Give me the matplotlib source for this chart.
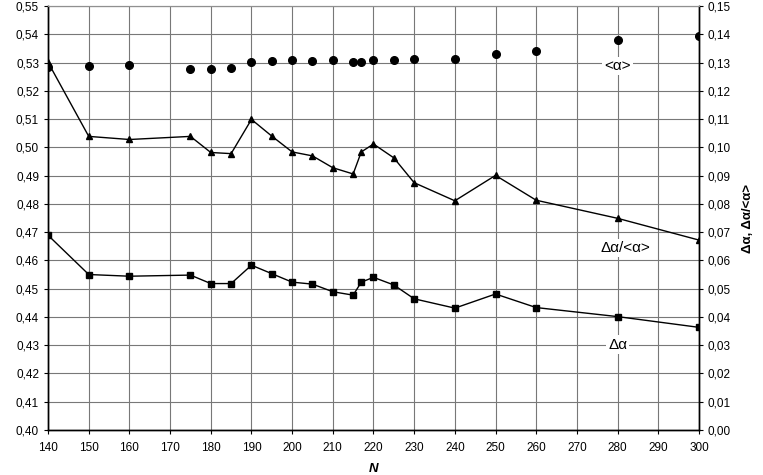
import matplotlib
matplotlib.use("Agg")
import matplotlib.pyplot as plt
from matplotlib.ticker import MultipleLocator, FuncFormatter

plt.rcParams["font.family"] = ["Liberation Sans", "DejaVu Sans"]

# N values for the three series
n_mean = [140, 150, 160, 175, 180, 185, 190, 195, 200, 205, 210, 215, 217,
          220, 225, 230, 240, 250, 260, 280, 300]
# <alpha> (left axis)
alpha_mean = [0.5283, 0.5288, 0.5292, 0.5278, 0.5278, 0.5282, 0.5301, 0.5307,
              0.5309, 0.5307, 0.5309, 0.5301, 0.5302, 0.5311, 0.5310, 0.5314,
              0.5312, 0.5330, 0.5342, 0.5382, 0.5393]
# delta alpha / <alpha> (right axis)
rel_width = [0.1301, 0.1039, 0.1028, 0.1039, 0.0982, 0.0978, 0.1099, 0.1040,
             0.0984, 0.0970, 0.0928, 0.0906, 0.0984, 0.1012, 0.0963, 0.0875,
             0.0811, 0.0901, 0.0813, 0.0749, 0.0672]
# delta alpha (right axis)
abs_width = [0.0689, 0.0550, 0.0544, 0.0548, 0.0518, 0.0518, 0.0583, 0.0553,
             0.0523, 0.0516, 0.0489, 0.0477, 0.0523, 0.0540, 0.0513, 0.0464,
             0.0431, 0.0481, 0.0433, 0.0401, 0.0363]

comma = FuncFormatter(lambda v, p: f"{v:.2f}".replace(".", ","))

fig = plt.figure(figsize=(7.63, 4.75), dpi=100)
ax1 = fig.add_axes([0.063, 0.095, 0.853, 0.892])
ax2 = ax1.twinx()

ax1.plot(n_mean, alpha_mean, "o", color="black", ms=5.5, ls="none", zorder=3)
ax2.plot(n_mean, rel_width, "-^", color="black", ms=4.5, lw=1)
ax2.plot(n_mean, abs_width, "-s", color="black", ms=5, lw=1)

ax1.set_xlim(140, 300)
ax1.set_ylim(0.40, 0.55)
ax2.set_ylim(0.00, 0.15)
ax1.xaxis.set_major_locator(MultipleLocator(10))
ax1.yaxis.set_major_locator(MultipleLocator(0.01))
ax2.yaxis.set_major_locator(MultipleLocator(0.01))
ax1.yaxis.set_major_formatter(comma)
ax2.yaxis.set_major_formatter(comma)
ax1.grid(True, color="#787878", lw=0.8)
ax1.set_axisbelow(True)

for ax in (ax1, ax2):
    ax.tick_params(labelsize=8.5, length=3, width=0.8, colors="black")
    ax.spines["top"].set_color("#909090")
    for side in ("left", "right", "bottom"):
        ax.spines[side].set_linewidth(1)
ax1.tick_params(axis="x", pad=6)

ax1.set_xlabel("N", fontsize=9.5, fontweight="bold", style="italic", labelpad=6)
ax2.set_ylabel("Δα, Δα/<α>", fontsize=9.5, fontweight="bold", labelpad=8)
fig.text(-0.004, 0.52, "<α>", rotation=90, fontsize=9, fontweight="bold",
         ha="center", va="center")

box = dict(facecolor="white", edgecolor="none", pad=1.5)
ax2.text(280, 0.1287, "<α>", fontsize=11, ha="center", va="center", bbox=box)
ax2.text(282, 0.0644, "Δα/<α>", fontsize=11, ha="center", va="center", bbox=box)
ax2.text(280, 0.0302, "Δα", fontsize=11, ha="center", va="center", bbox=box)

fig.savefig("out.png", dpi=100)
